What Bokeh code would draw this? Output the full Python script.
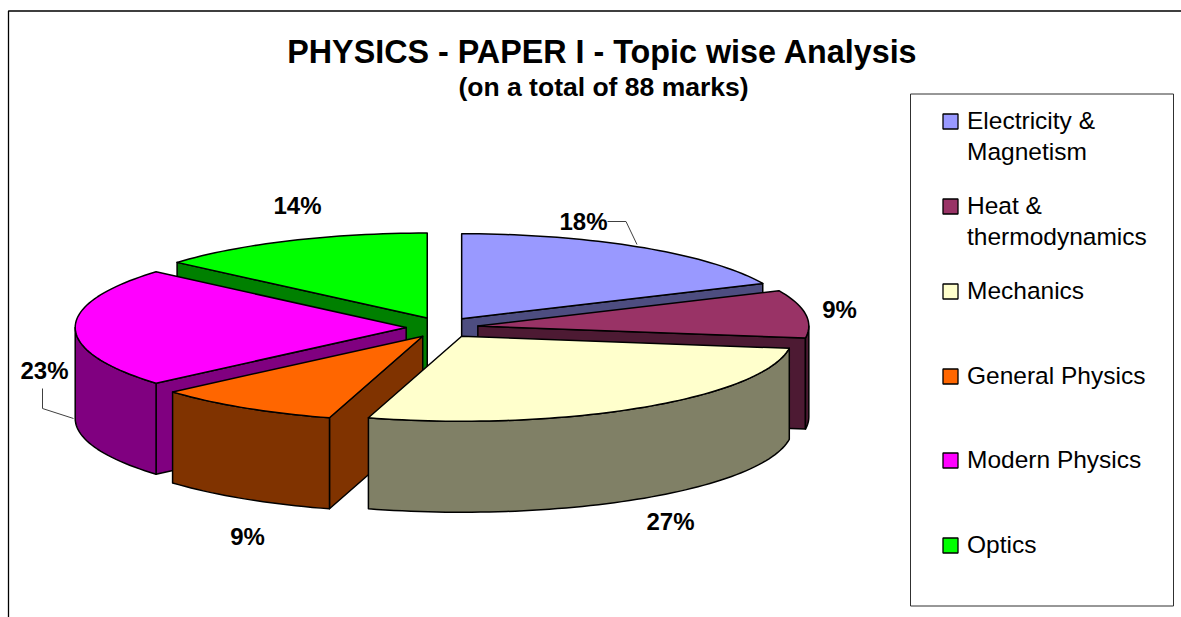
import math
from bokeh.plotting import figure
from bokeh.models import Range1d
from bokeh.core.properties import value
from bokeh.embed import file_html
from bokeh.resources import INLINE

# ---- data ----
categories = ["Electricity & Magnetism", "Heat & thermodynamics", "Mechanics",
              "General Physics", "Modern Physics", "Optics"]
marks = [16, 8, 24, 8, 20, 12]   # on a total of 88 marks
percent_labels = ["18%", "9%", "27%", "9%", "23%", "14%"]
top_colors = ["#9999FF", "#993366", "#FFFFCC", "#FF6600", "#FF00FF", "#00FF00"]
wall_colors = ["#4D4D80", "#4D1A33", "#808066", "#803300", "#800080", "#008000"]
legend_lines = [["Electricity &", "Magnetism"], ["Heat &", "thermodynamics"], ["Mechanics"],
                ["General Physics"], ["Modern Physics"], ["Optics"]]
title_text = "PHYSICS - PAPER I - Topic wise Analysis"
subtitle_text = "(on a total of 88 marks)"

# ---- layout (page pixels) ----
CX, CY = 441.7, 327.0     # pie centre
RX, RY = 331.0, 85.0      # radii of the top ellipse
DEPTH = 91.0              # extrusion
EXPL_X, EXPL_Y = 36.0, 10.4   # explosion offset
FONT = value("Liberation Sans")
BLACK = "#000000"
label_pos = [(583, 221), (839, 309), (670, 521), (247, 536), (44, 370), (297, 205)]

p = figure(width=1181, height=617, output_backend="svg", toolbar_location=None,
           x_range=Range1d(0, 1181), y_range=Range1d(617, 0),
           min_border=0, background_fill_color="#FFFFFF", border_fill_color="#FFFFFF")
p.axis.visible = False
p.grid.visible = False
p.outline_line_color = None


def point(a, ax, ay, drop=0.0):
    return ax + RX * math.sin(a), ay - RY * math.cos(a) + drop


def arc(a0, a1, ax, ay, drop=0.0):
    n = max(2, int(abs(a1 - a0) / math.radians(1.5)))
    return [point(a0 + (a1 - a0) * i / n, ax, ay, drop) for i in range(n + 1)]


def poly(pts, color):
    p.patch([q[0] for q in pts], [q[1] for q in pts], fill_color=color,
            line_color=BLACK, line_width=1.5, line_join="round")


# slice angles (clockwise from 12 o'clock)
total = sum(marks)
angles = []
acc = 0
for v in marks:
    angles.append((2 * math.pi * acc / total, 2 * math.pi * (acc + v) / total))
    acc += v

# painter's order: back to front
for i in [5, 0, 1, 4, 3, 2]:
    a0, a1 = angles[i]
    mid = (a0 + a1) / 2
    ax = CX + EXPL_X * math.sin(mid)
    ay = CY - EXPL_Y * math.cos(mid)
    wall = wall_colors[i]
    # radial walls that face the viewer
    if math.sin(a1) > 0.001:
        e = point(a1, ax, ay)
        poly([(ax, ay), e, (e[0], e[1] + DEPTH), (ax, ay + DEPTH)], wall)
    if math.sin(a0) < -0.001:
        e = point(a0, ax, ay)
        poly([(ax, ay), e, (e[0], e[1] + DEPTH), (ax, ay + DEPTH)], wall)
    # outer wall: only its front part is seen
    f0, f1 = max(a0, math.pi / 2), min(a1, 3 * math.pi / 2)
    if f1 > f0:
        poly(arc(f0, f1, ax, ay) + arc(f1, f0, ax, ay, DEPTH), wall)
    # top
    poly([(ax, ay)] + arc(a0, a1, ax, ay), top_colors[i])

# frame
p.line([8, 8, 1181], [617, 10.5, 10.5], line_color=BLACK, line_width=1.3)

# title
p.text([602], [51], text=[title_text], text_font=FONT, text_font_style="bold",
       text_font_size="32.3px", text_align="center", text_baseline="middle", text_color=BLACK)
p.text([603], [86], text=[subtitle_text], text_font=FONT, text_font_style="bold",
       text_font_size="26.5px", text_align="center", text_baseline="middle", text_color=BLACK)

# percentage labels
for t, (lx, ly) in zip(percent_labels, label_pos):
    p.text([lx], [ly], text=[t], text_font=FONT, text_font_style="bold",
           text_font_size="24px", text_align="center", text_baseline="middle", text_color=BLACK)

# leader lines
p.line([607, 625.5, 636.5], [221, 221, 244], line_color="#404040", line_width=1)
p.line([42, 42, 73], [388, 408, 418], line_color="#404040", line_width=1)

# legend box
p.patch([910, 1173, 1173, 910], [93.5, 93.5, 605.5, 605.5], fill_color="#FFFFFF",
        line_color="#303030", line_width=1)
entry_y = [121, 206, 291, 376, 460, 545]
for lines, col, y in zip(legend_lines, top_colors, entry_y):
    p.rect([950], [y], width=15, height=15, fill_color=col, line_color=BLACK, line_width=1.3)
    for j, t in enumerate(lines):
        p.text([966.5], [y - 1 + 30.5 * j], text=[t], text_font=FONT, text_font_size="24.5px",
               text_align="left", text_baseline="middle", text_color=BLACK)

open("out.html", "w").write(file_html(p, INLINE))
